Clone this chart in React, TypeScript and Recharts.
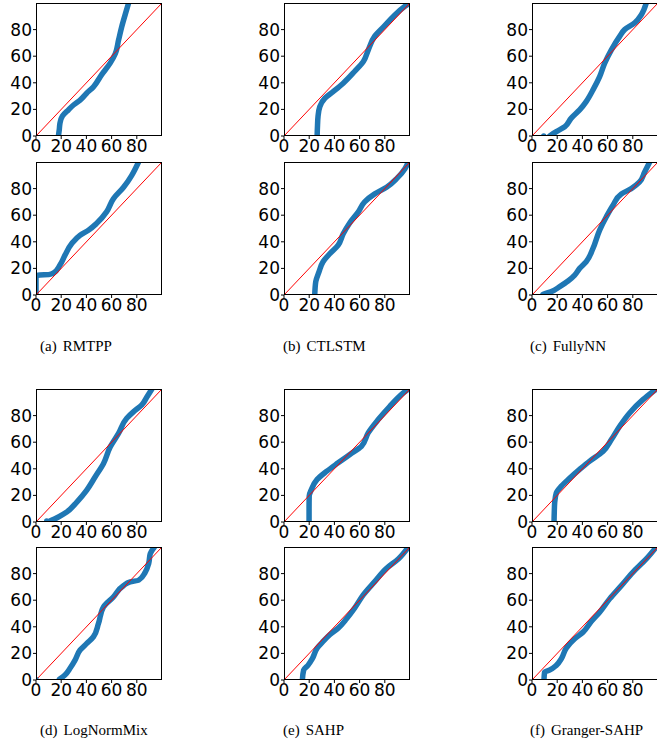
import { ComposedChart, Line, Scatter, XAxis, YAxis } from 'recharts'

const TICKS = [0, 20, 40, 60, 80]
const TOP_TAGS = ['(a)', '(b)', '(c)']
const TOP_NAMES = ['RMTPP', 'CTLSTM', 'FullyNN']
const BOTTOM_TAGS = ['(d)', '(e)', '(f)']
const BOTTOM_NAMES = ['LogNormMix', 'SAHP', 'Granger-SAHP']

const rmtpp1X = [17.8, 18.5, 19, 21, 25.7, 30, 35, 40, 45.6, 52, 59, 63, 65.5, 68, 71, 73.5]
const rmtpp1Y = [0, 5, 9.5, 15, 19.6, 23.5, 27, 32, 37, 46, 55, 62, 72, 82, 92, 100]
const rmtpp2X = [0, 0, 3, 10, 13.8, 19, 23, 28.4, 35, 41.6, 48, 56, 61.5, 69.5, 76, 81.4]
const rmtpp2Y = [0, 14.5, 15, 15.3, 16.5, 22.5, 30, 38.7, 45, 48.7, 53.7, 62.5, 72.5, 81, 90, 100]

const ctlstm1X = [26.3, 26.6, 27, 28.4, 32.4, 39, 47, 56, 63, 67, 72, 79, 87, 96, 100]
const ctlstm1Y = [0, 8, 14.6, 22, 28.4, 33.4, 39.7, 48.5, 56, 65, 75, 82, 90, 97.5, 100]
const ctlstm2X = [24.4, 25.2, 27.8, 31, 36.3, 43, 47, 52, 59, 64, 72, 81.4, 89.4, 96, 98.7]
const ctlstm2Y = [0, 10, 17.5, 25, 31, 37.5, 46, 54, 62.5, 70, 76, 81, 87.5, 95, 100]

const fullynn1X = [14, 19.3, 26, 31, 37.8, 43, 48.4, 53.7, 57.7, 63, 69.6, 73.5, 81.5, 86.8, 90.7]
const fullynn1Y = [0, 3.3, 7, 13.3, 19.6, 25.9, 34.7, 44.7, 54.8, 64.8, 74.9, 80, 85, 91.2, 100]
const fullynn1StrayX = [9.3]
const fullynn1StrayY = [0]
const fullynn2X = [8.7, 15.3, 22, 28.6, 33.9, 37.8, 43, 48.4, 53.7, 59, 64.3, 70.9, 78.8, 85.4, 89.4, 93.4]
const fullynn2Y = [0.5, 2.5, 6.3, 10.5, 15, 20, 25, 35, 48.8, 58.8, 67.5, 76, 80, 85, 92.5, 100]

const lognorm1X = [11, 17.8, 24.4, 32.4, 40.3, 47, 53.6, 58.9, 65.5, 72, 77.5, 84, 88, 92]
const lognorm1Y = [0.7, 3.8, 7.5, 15, 24, 34, 44, 56.5, 66.6, 78, 83, 88, 94, 100]
const lognorm1StrayX = [8.5]
const lognorm1StrayY = [0.7]
const lognorm2X = [18.6, 23, 27, 31, 35, 40.3, 45.6, 49.6, 53.6, 61.5, 69.5, 74.8, 81.4, 86.7, 89.4, 90.7, 94]
const lognorm2Y = [0.5, 3.8, 8.8, 15, 22.5, 27.5, 32.5, 42.5, 55, 62.5, 71, 73.8, 75, 81, 87.5, 95, 100]
const lognorm2StrayX = [0]
const lognorm2StrayY = [0.5]

const sahp1X = [19.9, 19.9, 20, 21.8, 26.3, 33.7, 43, 52.3, 61.5, 66.8, 74.8, 84, 94.7, 98.7]
const sahp1Y = [0, 10, 19.5, 24.5, 32, 38, 44.5, 50.8, 57, 67, 77, 87, 97, 100]
const sahp2X = [14.6, 15.6, 19, 22.5, 26.3, 31, 36.3, 43, 49.6, 56, 62.9, 72, 81.4, 90.7, 98.7]
const sahp2Y = [0, 7.5, 11, 16, 24, 29, 34, 39, 46, 54, 64, 74, 84, 91, 100]

const granger1X = [17.5, 17.7, 18, 19.3, 23.3, 30, 37.8, 45.8, 56.3, 63, 69.6, 77.5, 88, 98.7]
const granger1Y = [0, 8, 14.5, 22, 27, 33, 39.5, 45.8, 53, 62, 72, 82, 92, 100]
const granger2X = [9.5, 10, 14, 19.3, 23.3, 27.2, 33.9, 40.5, 47, 53.7, 61.6, 70.9, 80, 90.7, 98.7]
const granger2Y = [0, 6, 7.5, 11, 16, 24, 31, 36, 44, 51, 61, 71, 81, 91, 100]

const COL_LEFT = [36, 284, 532]
const ROW_TOP = [3, 162, 389, 547]
const PLOT_W = 126
const PLOT_H = 133
const Y_AXIS_W = 36
const X_AXIS_H = 24
const RIGHT_PAD = 6
const BLUE = '#1f77b4'

const zip = (xs: number[], ys: number[]) => xs.map((x, i) => ({ x, y: ys[i] }))

const panels = [
  { col: 0, row: 0, x: rmtpp1X, y: rmtpp1Y },
  { col: 0, row: 1, x: rmtpp2X, y: rmtpp2Y },
  { col: 1, row: 0, x: ctlstm1X, y: ctlstm1Y },
  { col: 1, row: 1, x: ctlstm2X, y: ctlstm2Y },
  { col: 2, row: 0, x: fullynn1X, y: fullynn1Y, sx: fullynn1StrayX, sy: fullynn1StrayY },
  { col: 2, row: 1, x: fullynn2X, y: fullynn2Y },
  { col: 0, row: 2, x: lognorm1X, y: lognorm1Y, sx: lognorm1StrayX, sy: lognorm1StrayY },
  { col: 0, row: 3, x: lognorm2X, y: lognorm2Y, sx: lognorm2StrayX, sy: lognorm2StrayY },
  { col: 1, row: 2, x: sahp1X, y: sahp1Y },
  { col: 1, row: 3, x: sahp2X, y: sahp2Y },
  { col: 2, row: 2, x: granger1X, y: granger1Y },
  { col: 2, row: 3, x: granger2X, y: granger2Y },
]

const diagonal = [
  { x: 0, y: 0 },
  { x: 100, y: 100 },
]

const tickStyle = { fontSize: 17, fill: '#000', fontFamily: 'DejaVu Sans' }

function QQPanel({ panel }: { panel: (typeof panels)[number] }) {
  const left = COL_LEFT[panel.col]
  const top = ROW_TOP[panel.row]
  const curve = zip(panel.x, panel.y)
  const strays = panel.sx ? zip(panel.sx, panel.sy!) : []

  return (
    <>
      <div style={{ position: 'absolute', left: left - Y_AXIS_W, top: top - 3 }}>
        <ComposedChart
          width={Y_AXIS_W + PLOT_W + RIGHT_PAD}
          height={3 + PLOT_H + X_AXIS_H}
          margin={{ top: 3, right: RIGHT_PAD, bottom: 0, left: 0 }}
        >
          <XAxis
            dataKey="x"
            type="number"
            domain={[0, 100]}
            ticks={TICKS}
            interval={0}
            allowDataOverflow
            axisLine={false}
            tickLine={{ stroke: '#000' }}
            tickSize={3}
            tickMargin={1}
            height={X_AXIS_H}
            tick={tickStyle}
          />
          <YAxis
            dataKey="y"
            type="number"
            domain={[0, 100]}
            ticks={TICKS}
            interval={0}
            allowDataOverflow
            axisLine={false}
            tickLine={{ stroke: '#000' }}
            tickSize={3}
            tickMargin={1}
            width={Y_AXIS_W}
            tick={tickStyle}
          />
          <Line
            data={curve}
            dataKey="y"
            type="monotoneY"
            stroke={BLUE}
            strokeWidth={5.5}
            strokeLinecap="round"
            strokeLinejoin="round"
            dot={false}
            isAnimationActive={false}
          />
          {strays.length > 0 && (
            <Scatter
              data={strays}
              dataKey="y"
              fill={BLUE}
              shape={(p: any) => <circle cx={p.cx} cy={p.cy} r={2.7} fill={BLUE} />}
              isAnimationActive={false}
            />
          )}
          <Line
            data={diagonal}
            dataKey="y"
            stroke="#ff0000"
            strokeWidth={1}
            dot={false}
            isAnimationActive={false}
          />
        </ComposedChart>
      </div>
      <div
        style={{
          position: 'absolute',
          left,
          top,
          width: PLOT_W,
          height: PLOT_H,
          border: '1px solid #000',
          boxSizing: 'border-box',
          pointerEvents: 'none',
        }}
      />
    </>
  )
}

const captionStyle = {
  position: 'absolute' as const,
  fontFamily: '"Liberation Serif", serif',
  fontSize: 15,
  color: '#000',
  whiteSpace: 'nowrap' as const,
}

const CAPTION_LEFT = [40, 283, 530]

function Caption({ tag, name, left, top }: { tag: string; name: string; left: number; top: number }) {
  return (
    <div style={{ ...captionStyle, left, top }}>
      <span>{tag}</span>
      <span style={{ marginLeft: 6 }}>{name}</span>
    </div>
  )
}

export default function App() {
  return (
    <div
      style={{
        position: 'absolute',
        left: 0,
        top: 0,
        width: 657,
        height: 746,
        overflow: 'hidden',
        background: '#fff',
      }}
    >
      {panels.map((p, i) => (
        <QQPanel key={i} panel={p} />
      ))}
      {TOP_NAMES.map((n, i) => (
        <Caption key={n} tag={TOP_TAGS[i]} name={n} left={CAPTION_LEFT[i]} top={338} />
      ))}
      {BOTTOM_NAMES.map((n, i) => (
        <Caption key={n} tag={BOTTOM_TAGS[i]} name={n} left={CAPTION_LEFT[i]} top={722} />
      ))}
    </div>
  )
}
